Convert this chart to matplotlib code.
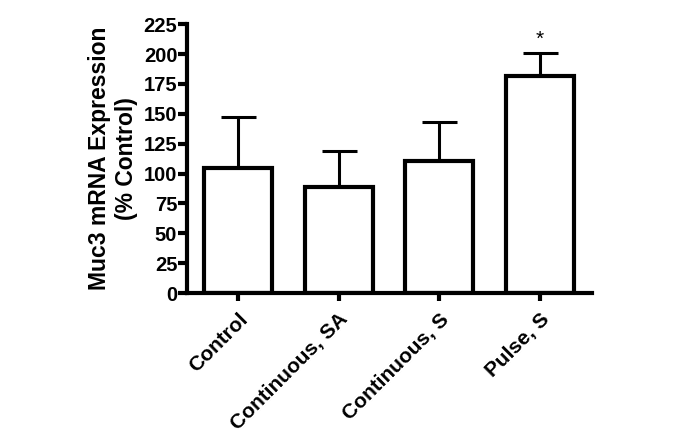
import matplotlib.pyplot as plt

plt.rcParams['font.family'] = ['Liberation Sans', 'DejaVu Sans']
plt.rcParams['font.weight'] = 'bold'

groups = ["Control", "Continuous, SA", "Continuous, S", "Pulse, S"]
means = [105, 88.5, 110.5, 182]
errors = [42, 30, 33, 19]
stars = ["", "", "", "*"]

fig = plt.figure(figsize=(6.75, 4.4), dpi=100)
ax = fig.add_axes([0.277, 0.334, 0.600, 0.611])

x = range(len(groups))
ax.bar(x, means, width=0.675, color="white", edgecolor="black", linewidth=3, zorder=2)
ax.errorbar(x, means, yerr=[[0] * len(means), errors], fmt="none", ecolor="black",
            elinewidth=2.2, capsize=12.6, capthick=2.2, zorder=1)
for xi, m, e, s in zip(x, means, errors, stars):
    if s:
        ax.text(xi, m + e + 3, s, ha="center", va="bottom", fontsize=15, fontweight="normal")

ax.set_xlim(-0.506, 3.516)
ax.set_ylim(0, 225)
ax.set_yticks(range(0, 226, 25))
ax.set_xticks(list(x))
ax.set_xticklabels(groups, rotation=45, ha="right", rotation_mode="anchor", fontsize=15)
ax.tick_params(axis="y", labelsize=14.5, width=3, length=6.5, pad=0.5)
ax.tick_params(axis="x", width=3, length=6, pad=6)
for side in ["top", "right"]:
    ax.spines[side].set_visible(False)
for side in ["left", "bottom"]:
    ax.spines[side].set_linewidth(3)
ax.set_ylabel("Muc3 mRNA Expression\n(% Control)", fontsize=16.5, fontweight="bold", labelpad=4)

fig.savefig("out.png", dpi=100)
